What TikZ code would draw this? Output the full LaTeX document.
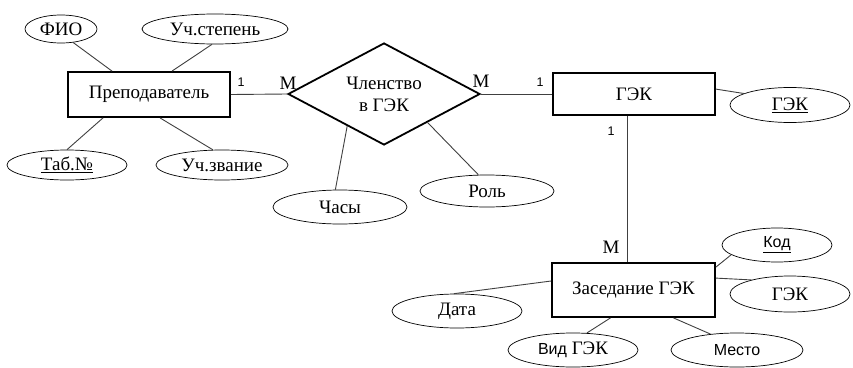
\documentclass[tikz,border=0pt]{standalone}
\usepackage{fontspec}
\setmainfont{Liberation Serif}
\setsansfont{Liberation Sans}
\usetikzlibrary{shapes.geometric,calc}
\begin{document}
\begin{tikzpicture}[x=1pt,y=-1pt,
  ent/.style={draw=black,line width=1.8pt,rectangle,inner sep=0pt,font=\fontsize{19}{22}\selectfont},
  rel/.style={draw=black,line width=1.8pt,diamond,inner sep=0pt,aspect=1.88,minimum width=192pt,minimum height=102pt,align=center,font=\fontsize{19}{22}\selectfont},
  attr/.style={draw=black,line width=0.7pt,ellipse,inner sep=0pt,font=\fontsize{19}{22}\selectfont},
  sattr/.style={attr,font=\sffamily\fontsize{16}{19}\selectfont},
  link/.style={draw=black!75,line width=0.9pt},
  card/.style={inner sep=0pt,font=\fontsize{19}{22}\selectfont},
  scard/.style={inner sep=0pt,font=\sffamily\fontsize{12.5}{15}\selectfont}]
\useasboundingbox[fill=white] (0,0) rectangle (853,367);
% entities
\node[ent,minimum width=162pt,minimum height=45pt] (prep) at (149,94.5) {Преподаватель};
\node[ent,minimum width=162pt,minimum height=42pt] (gek) at (634,94) {ГЭК};
\node[ent,minimum width=163pt,minimum height=54pt] (zas) at (633.5,290) {Заседание ГЭК};
% relationship
\node[rel] (mem) at (384,94) {Членство\\в ГЭК};
% attributes
\node[attr,minimum width=72pt,minimum height=28pt] (fio) at (61,29) {ФИО};
\node[attr,minimum width=146pt,minimum height=30pt] (stepen) at (215,29) {Уч.степень};
\node[attr,minimum width=120pt,minimum height=30pt] (tab) at (67,165) {\underline{Таб.№}};
\node[attr,minimum width=132pt,minimum height=30pt] (zvanie) at (222,165) {Уч.звание};
\node[attr,minimum width=134pt,minimum height=34pt] (chasy) at (340,207) {Часы};
\node[attr,minimum width=134pt,minimum height=32pt] (rol) at (487,191) {Роль};
\node[attr,minimum width=120pt,minimum height=35pt] (gekk) at (790,105) {\underline{ГЭК}};
\node[sattr,minimum width=110pt,minimum height=34pt] (kod) at (777,245) {\underline{Код}};
\node[attr,minimum width=120pt,minimum height=36pt] (gek2) at (790,294) {ГЭК};
\node[attr,minimum width=130pt,minimum height=34pt] (data) at (457,311) {Дата};
\node[attr,minimum width=130pt,minimum height=34pt] (vid) at (573,350) {{\sffamily\fontsize{16}{19}\selectfont Вид} ГЭК};
\node[sattr,minimum width=132pt,minimum height=34pt] (mesto) at (737,350) {Место};
% relationship links
\draw[link] (prep.east) -- (mem.west);
\draw[link] (mem.east) -- (gek.west);
\draw[link] ([xshift=-7pt]gek.south) -- ([xshift=-6.5pt]zas.north);
% attribute links
\draw[link] ([xshift=-37pt]prep.north) -- (fio.-48);
\draw[link] ([xshift=23pt]prep.north) -- (stepen.-101);
\draw[link] ([xshift=-46pt]prep.south) -- (tab.north);
\draw[link] ([xshift=11pt]prep.south) -- (zvanie.121);
\draw[link] ($(mem.west)!0.62!(mem.south)$) -- (chasy.105);
\draw[link] ($(mem.south)!0.45!(mem.east)$) -- (rol.118);
\draw[link] ([yshift=-17pt]gek.north east) -- (gekk.166);
\draw[link] ([yshift=-5pt]zas.north east) -- (kod.192);
\draw[link] ([yshift=-16pt]zas.north east) -- (gek2.160);
\draw[link] ([yshift=9pt]zas.west) -- (data.100);
\draw[link] ([xshift=-23pt]zas.south) -- (vid.51);
\draw[link] ([xshift=40pt]zas.south) -- (mesto.149);
% cardinalities
\node[scard] (c1) at (241,82) {1};
\node[card] (c2) at (288,83) {M};
\node[card] (c3) at (481,81) {M};
\node[scard] (c4) at (540,82) {1};
\node[scard] (c5) at (611,131) {1};
\node[card] (c6) at (611,247) {M};
\end{tikzpicture}
\end{document}
